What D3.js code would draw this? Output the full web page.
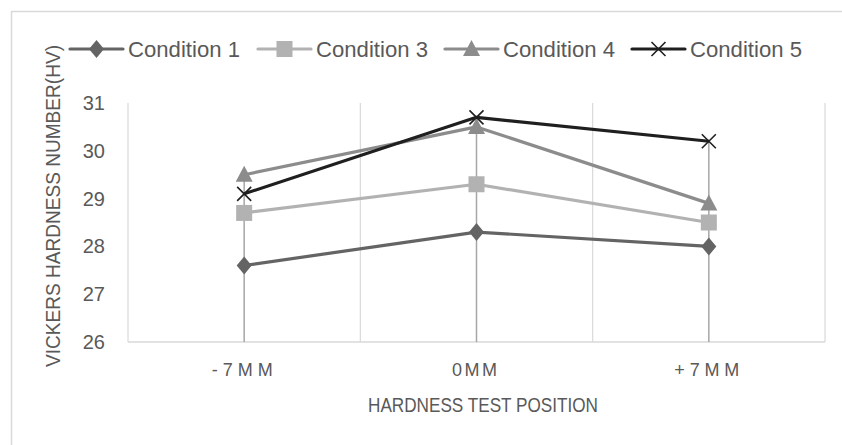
<!DOCTYPE html>
<html>
<head>
<meta charset="utf-8">
<script src="https://cdn.jsdelivr.net/npm/d3@7"></script>
<style>
  body { margin: 0; background: #fff; }
  svg { display: block; font-family: "Liberation Sans Narrow", "Liberation Sans", Arial, sans-serif; }
</style>
</head>
<body>
<div id="chart"></div>
<script>
// data
const categories = ["-7MM", "0MM", "+7MM"];
const seriesNames = ["Condition 1", "Condition 3", "Condition 4", "Condition 5"];
const condition1 = [27.6, 28.3, 28.0];
const condition3 = [28.7, 29.3, 28.5];
const condition4 = [29.5, 30.5, 28.9];
const condition5 = [29.1, 30.7, 30.2];
const yTicks = [26, 27, 28, 29, 30, 31];

const seriesValues = [condition1, condition3, condition4, condition5];
const colors = ["#646464", "#b2b2b2", "#8c8c8c", "#1f1f1f"];
const symbols = ["diamond", "square", "triangle", "cross"];
const textColor = "#595959";

const width = 842, height = 445;
const plot = { left: 128, right: 825, top: 103, bottom: 342 };

const svg = d3.select("#chart").append("svg")
    .attr("width", width)
    .attr("height", height);

// outer chart border (runs off the right and bottom)
svg.append("rect")
    .attr("x", 11.5).attr("y", 11.5)
    .attr("width", width).attr("height", height)
    .attr("fill", "none")
    .attr("stroke", "#d9d9d9")
    .attr("stroke-width", 1.5);

const x = d3.scaleBand().domain(categories).range([plot.left, plot.right]);
const y = d3.scaleLinear().domain([26, 31]).range([plot.bottom, plot.top]);
const cx = c => x(c) + x.bandwidth() / 2;

// vertical gridlines on the category boundaries
const edges = categories.map(c => x(c)).concat([plot.right]);
svg.append("g").selectAll("line")
    .data(edges)
    .enter().append("line")
    .attr("x1", d => d).attr("x2", d => d)
    .attr("y1", y(31)).attr("y2", y(26))
    .attr("stroke", "#d9d9d9")
    .attr("stroke-width", 1.2);

// bottom axis line
svg.append("line")
    .attr("x1", plot.left).attr("x2", plot.right)
    .attr("y1", y(26)).attr("y2", y(26))
    .attr("stroke", "#d9d9d9")
    .attr("stroke-width", 1.5);

// drop lines from the highest point of each category down to the axis
svg.append("g").selectAll("line")
    .data(categories)
    .enter().append("line")
    .attr("x1", d => cx(d)).attr("x2", d => cx(d))
    .attr("y1", (d, i) => y(d3.max(seriesValues, s => s[i])))
    .attr("y2", y(26))
    .attr("stroke", "#a6a6a6")
    .attr("stroke-width", 1.5);

// y tick labels
svg.append("g").selectAll("text")
    .data(yTicks)
    .enter().append("text")
    .attr("x", 105)
    .attr("y", d => y(d))
    .attr("dy", "0.35em")
    .attr("text-anchor", "end")
    .attr("fill", textColor)
    .style("font-size", "20px")
    .text(d => d);

// x tick labels (spaced out like the original)
const xLabelWidths = [61, 45, 65];
svg.append("g").selectAll("text")
    .data(categories)
    .enter().append("text")
    .attr("x", d => cx(d) - 2)
    .attr("y", 370)
    .attr("dy", "0.35em")
    .attr("text-anchor", "middle")
    .attr("fill", textColor)
    .attr("textLength", (d, i) => xLabelWidths[i])
    .attr("lengthAdjust", "spacing")
    .style("font-size", "18px")
    .text(d => d);

// axis titles
svg.append("text")
    .attr("x", 483).attr("y", 405)
    .attr("dy", "0.35em")
    .attr("text-anchor", "middle")
    .attr("fill", textColor)
    .attr("textLength", 230)
    .attr("lengthAdjust", "spacingAndGlyphs")
    .style("font-size", "21px")
    .text("HARDNESS TEST POSITION");

svg.append("text")
    .attr("transform", "translate(53,206) rotate(-90)")
    .attr("dy", "0.35em")
    .attr("text-anchor", "middle")
    .attr("fill", textColor)
    .attr("textLength", 322)
    .attr("lengthAdjust", "spacingAndGlyphs")
    .style("font-size", "20px")
    .text("VICKERS HARDNESS NUMBER(HV)");

function drawMarker(g, type, color, px, py) {
    if (type === "diamond") {
        g.append("path")
            .attr("d", `M${px},${py - 9}L${px + 7.5},${py}L${px},${py + 9}L${px - 7.5},${py}Z`)
            .attr("fill", color);
    } else if (type === "square") {
        g.append("rect")
            .attr("x", px - 8).attr("y", py - 8)
            .attr("width", 16).attr("height", 16)
            .attr("fill", color);
    } else if (type === "triangle") {
        g.append("path")
            .attr("d", `M${px},${py - 9}L${px + 8.5},${py + 7}L${px - 8.5},${py + 7}Z`)
            .attr("fill", color);
    } else {
        g.append("path")
            .attr("d", `M${px - 7},${py - 7}L${px + 7},${py + 7}M${px + 7},${py - 7}L${px - 7},${py + 7}`)
            .attr("stroke", color)
            .attr("stroke-width", 1.6)
            .attr("fill", "none");
    }
}

const line = d3.line()
    .x((d, i) => cx(categories[i]))
    .y(d => y(d));

// series lines and markers
seriesValues.forEach((vals, s) => {
    const g = svg.append("g");
    g.append("path")
        .datum(vals)
        .attr("d", line)
        .attr("fill", "none")
        .attr("stroke", colors[s])
        .attr("stroke-width", 3.2)
        .attr("stroke-linejoin", "round");
    vals.forEach((v, i) => drawMarker(g, symbols[s], colors[s], cx(categories[i]), y(v)));
});

// legend
const legendLineX = [70, 258, 445, 632];
const legendTextW = [112, 112, 112, 112];
const legendY = 49;
seriesNames.forEach((name, s) => {
    const g = svg.append("g");
    const lx = legendLineX[s];
    g.append("line")
        .attr("x1", lx).attr("x2", lx + 53)
        .attr("y1", legendY).attr("y2", legendY)
        .attr("stroke", colors[s])
        .attr("stroke-width", 3.2)
        .attr("stroke-linecap", "round");
    drawMarker(g, symbols[s], colors[s], lx + 26.5, legendY);
    g.append("text")
        .attr("x", lx + 58)
        .attr("y", legendY)
        .attr("dy", "0.35em")
        .attr("fill", textColor)
        .attr("textLength", legendTextW[s])
        .attr("lengthAdjust", "spacingAndGlyphs")
        .style("font-size", "22px")
        .text(name);
});
</script>
</body>
</html>
